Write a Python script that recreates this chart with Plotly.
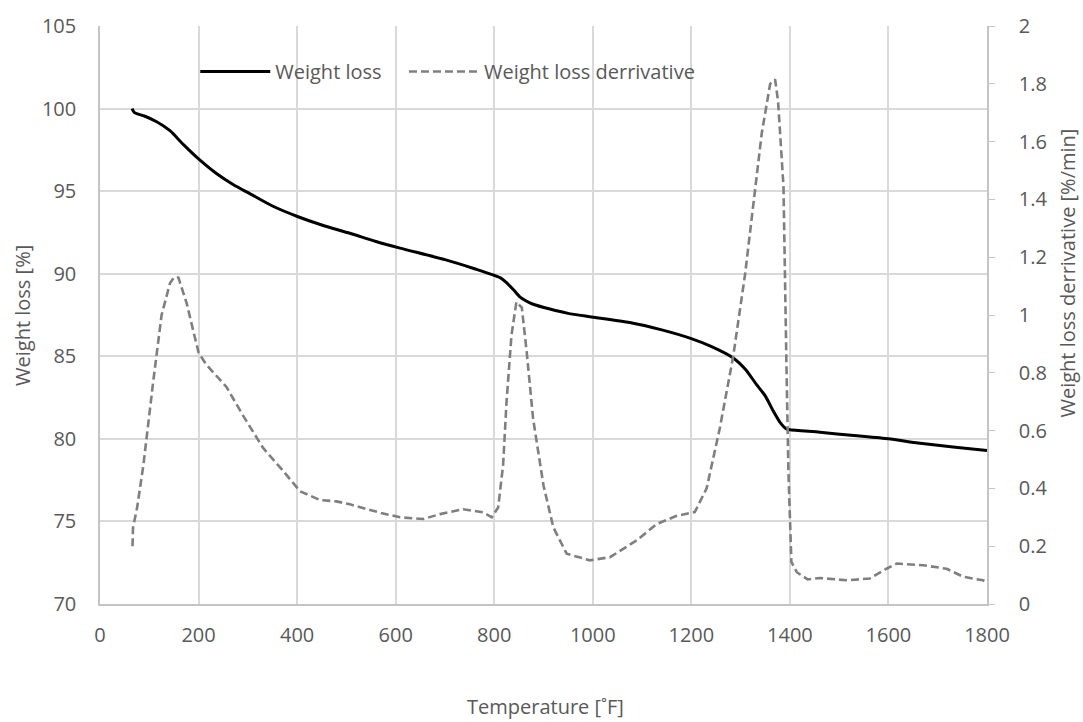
import plotly.graph_objects as go

# Weight loss curve (left axis)
temp_wl = [65, 70, 90, 115, 142, 170, 200, 237, 270, 304, 350, 402, 450, 507, 560, 609,
           700, 760, 812, 825, 840, 852, 865, 879, 913, 950, 994, 1075, 1140, 1197, 1240,
           1285, 1310, 1332, 1350, 1366, 1380, 1393, 1400, 1461, 1530, 1600, 1660, 1731, 1800]
weight_loss = [100.0, 99.75, 99.55, 99.2, 98.66, 97.8, 96.95, 96.05, 95.4, 94.85, 94.1, 93.45,
               92.95, 92.45, 91.95, 91.55, 90.85, 90.3, 89.76, 89.46, 89.0, 88.6, 88.35, 88.15,
               87.86, 87.6, 87.4, 87.05, 86.6, 86.1, 85.6, 84.9, 84.2, 83.3, 82.6, 81.7, 81.0,
               80.6, 80.55, 80.4, 80.2, 80.0, 79.75, 79.5, 79.3]

# Weight loss derivative (right axis)
temp_der = [66, 67, 75, 88, 108, 125, 142, 150, 159, 176, 190, 200, 215, 237, 257, 291, 331,
            372, 406, 446, 480, 507, 540, 570, 609, 656, 690, 737, 778, 795, 808, 818, 825,
            835, 845, 856, 866, 879, 900, 920, 947, 994, 1035, 1089, 1130, 1170, 1207, 1231,
            1258, 1285, 1309, 1326, 1343, 1360, 1370, 1376, 1387, 1393, 1397, 1403, 1414,
            1436, 1461, 1515, 1562, 1596, 1617, 1671, 1718, 1752, 1792, 1800]
derivative = [0.20, 0.265, 0.33, 0.48, 0.77, 1.0, 1.11, 1.13, 1.13, 1.04, 0.94, 0.87, 0.83,
              0.79, 0.75, 0.65, 0.54, 0.46, 0.39, 0.36, 0.355, 0.345, 0.33, 0.315, 0.30,
              0.294, 0.311, 0.328, 0.317, 0.30, 0.334, 0.48, 0.70, 0.93, 1.045, 1.026, 0.87,
              0.64, 0.41, 0.265, 0.174, 0.151, 0.162, 0.22, 0.277, 0.305, 0.318, 0.40, 0.61,
              0.857, 1.14, 1.38, 1.63, 1.80, 1.815, 1.74, 1.445, 0.83, 0.46, 0.146, 0.11,
              0.085, 0.09, 0.082, 0.088, 0.122, 0.14, 0.134, 0.122, 0.094, 0.082, 0.075]

x_ticks = list(range(0, 1801, 200))
y_ticks = list(range(70, 106, 5))
y2_ticks = [round(0.2 * i, 1) for i in range(11)]

FONT = "Open Sans"
TXT = "#595959"
GRID = "#d9d9d9"
AXL = "#c4c4c4"
FS = 20

fig = go.Figure()
fig.add_trace(go.Scatter(x=temp_wl, y=weight_loss, name="Weight loss", mode="lines",
                         legend="legend",
                         line=dict(color="black", width=3, shape="spline", smoothing=0.6)))
fig.add_trace(go.Scatter(x=temp_der, y=derivative, name="Weight loss derrivative", mode="lines",
                         yaxis="y2", legend="legend2",
                         line=dict(color="#7f7f7f", width=2.6, dash="8px,4px")))

legend_style = dict(orientation="h", y=0.955, xanchor="left", yanchor="top",
                    font=dict(family=FONT, size=FS, color=TXT), bgcolor="rgba(0,0,0,0)",
                    itemwidth=70)

fig.update_layout(
    width=1083, height=722,
    margin=dict(l=100, r=96, t=21, b=118),
    paper_bgcolor="white", plot_bgcolor="white",
    font=dict(family=FONT, size=FS, color=TXT),
    showlegend=True,
    legend=dict(x=0.1074, **legend_style),
    legend2=dict(x=0.3427, **legend_style),
    xaxis=dict(range=[0, 1800], tickvals=x_ticks, showgrid=True, gridcolor=GRID, gridwidth=1.5,
               showline=True, linecolor=AXL, linewidth=1.5, ticks="", zeroline=False,
               ticklabelstandoff=12, tickfont=dict(size=FS, color=TXT)),
    yaxis=dict(range=[70, 105], tickvals=y_ticks, showgrid=True, gridcolor=GRID, gridwidth=1.5,
               showline=True, linecolor=AXL, linewidth=1.5, ticks="", zeroline=False,
               ticklabelstandoff=18, tickfont=dict(size=FS, color=TXT)),
    yaxis2=dict(range=[0, 2], tickvals=y2_ticks, overlaying="y", side="right", showgrid=False,
                showline=True, linecolor=AXL, linewidth=1.5, ticks="outside", ticklen=6,
                tickcolor=AXL, zeroline=False, ticklabelstandoff=20,
                tickfont=dict(size=FS, color=TXT)),
    annotations=[
        dict(text="Weight loss [%]", xref="paper", yref="paper", x=-0.088, y=0.5,
             textangle=-90, showarrow=False, xanchor="center", yanchor="middle",
             font=dict(size=FS, color=TXT)),
        dict(text="Weight loss derrivative [%/min]", xref="paper", yref="paper", x=1.091, y=0.573,
             textangle=-90, showarrow=False, xanchor="center", yanchor="middle",
             font=dict(size=FS, color=TXT)),
        dict(text="Temperature [˚F]", xref="paper", yref="paper", x=0.502, y=-0.178,
             showarrow=False, xanchor="center", yanchor="middle",
             font=dict(size=FS, color=TXT)),
    ],
)

# remove the browser's default 8px body margin so the 1083x722 figure fills the window
fig.write_html("out.html", config={"displayModeBar": False},
               post_script="document.body.style.margin='0';")
